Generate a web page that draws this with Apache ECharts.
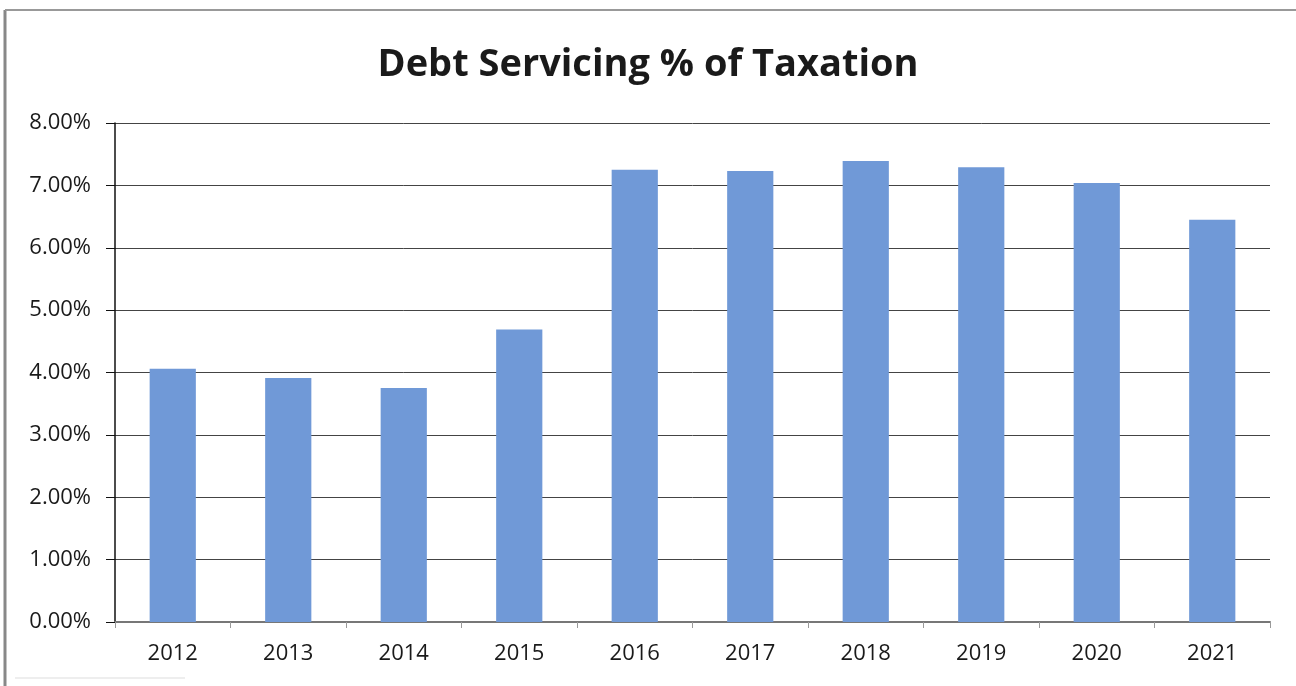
<!DOCTYPE html>
<html><head><meta charset="utf-8">
<script src="https://cdn.jsdelivr.net/npm/echarts@6/dist/echarts.min.js"></script>
<style>html,body{margin:0;padding:0;background:#fff}#c{width:1296px;height:686px}</style>
</head><body><div id="c"></div>
<script>
var titleText = 'Debt Servicing % of Taxation';
var years = ['2012','2013','2014','2015','2016','2017','2018','2019','2020','2021'];
var debtPct = [4.06, 3.91, 3.75, 4.69, 7.25, 7.23, 7.39, 7.29, 7.04, 6.45];

var chart = echarts.init(document.getElementById('c'));
chart.setOption({
  backgroundColor: '#fff',
  animation: false,
  title: {
    text: titleText, left: 'center', top: 41,
    textStyle: {fontFamily: 'Open Sans', fontWeight: 'bold', fontSize: 38, color: '#1a1a1a'}
  },
  graphic: [
    {type: 'line', shape: {x1: 5, y1: 10, x2: 5, y2: 686}, style: {stroke: '#888', lineWidth: 3}},
    {type: 'line', shape: {x1: 5, y1: 10, x2: 1296, y2: 10}, style: {stroke: '#999', lineWidth: 2}},
    {type: 'line', shape: {x1: 15, y1: 678, x2: 185, y2: 678}, style: {stroke: '#ddd', lineWidth: 1}}
  ],
  grid: {left: 115, right: 26, top: 123, bottom: 64, containLabel: false},
  xAxis: {
    type: 'category', data: years,
    axisLine: {lineStyle: {color: '#777', width: 2}},
    axisTick: {show: true, alignWithLabel: false, length: 6, lineStyle: {color: '#999'}},
    axisLabel: {fontFamily: 'Open Sans', fontSize: 22, color: '#1a1a1a', margin: 21}
  },
  yAxis: {
    type: 'value', min: 0, max: 8, interval: 1,
    axisLine: {show: true, lineStyle: {color: '#111', width: 1.5}},
    axisTick: {show: true, length: 9, lineStyle: {color: '#111'}},
    axisLabel: {fontFamily: 'Open Sans', fontSize: 22, color: '#1a1a1a', margin: 24,
      formatter: function(v){ return v.toFixed(2) + '%'; }},
    splitLine: {lineStyle: {color: '#444', width: 1}}
  },
  series: [{
    type: 'bar', data: debtPct, barWidth: '40%',
    itemStyle: {color: '#7099d7'}
  }]
});
</script></body></html>
